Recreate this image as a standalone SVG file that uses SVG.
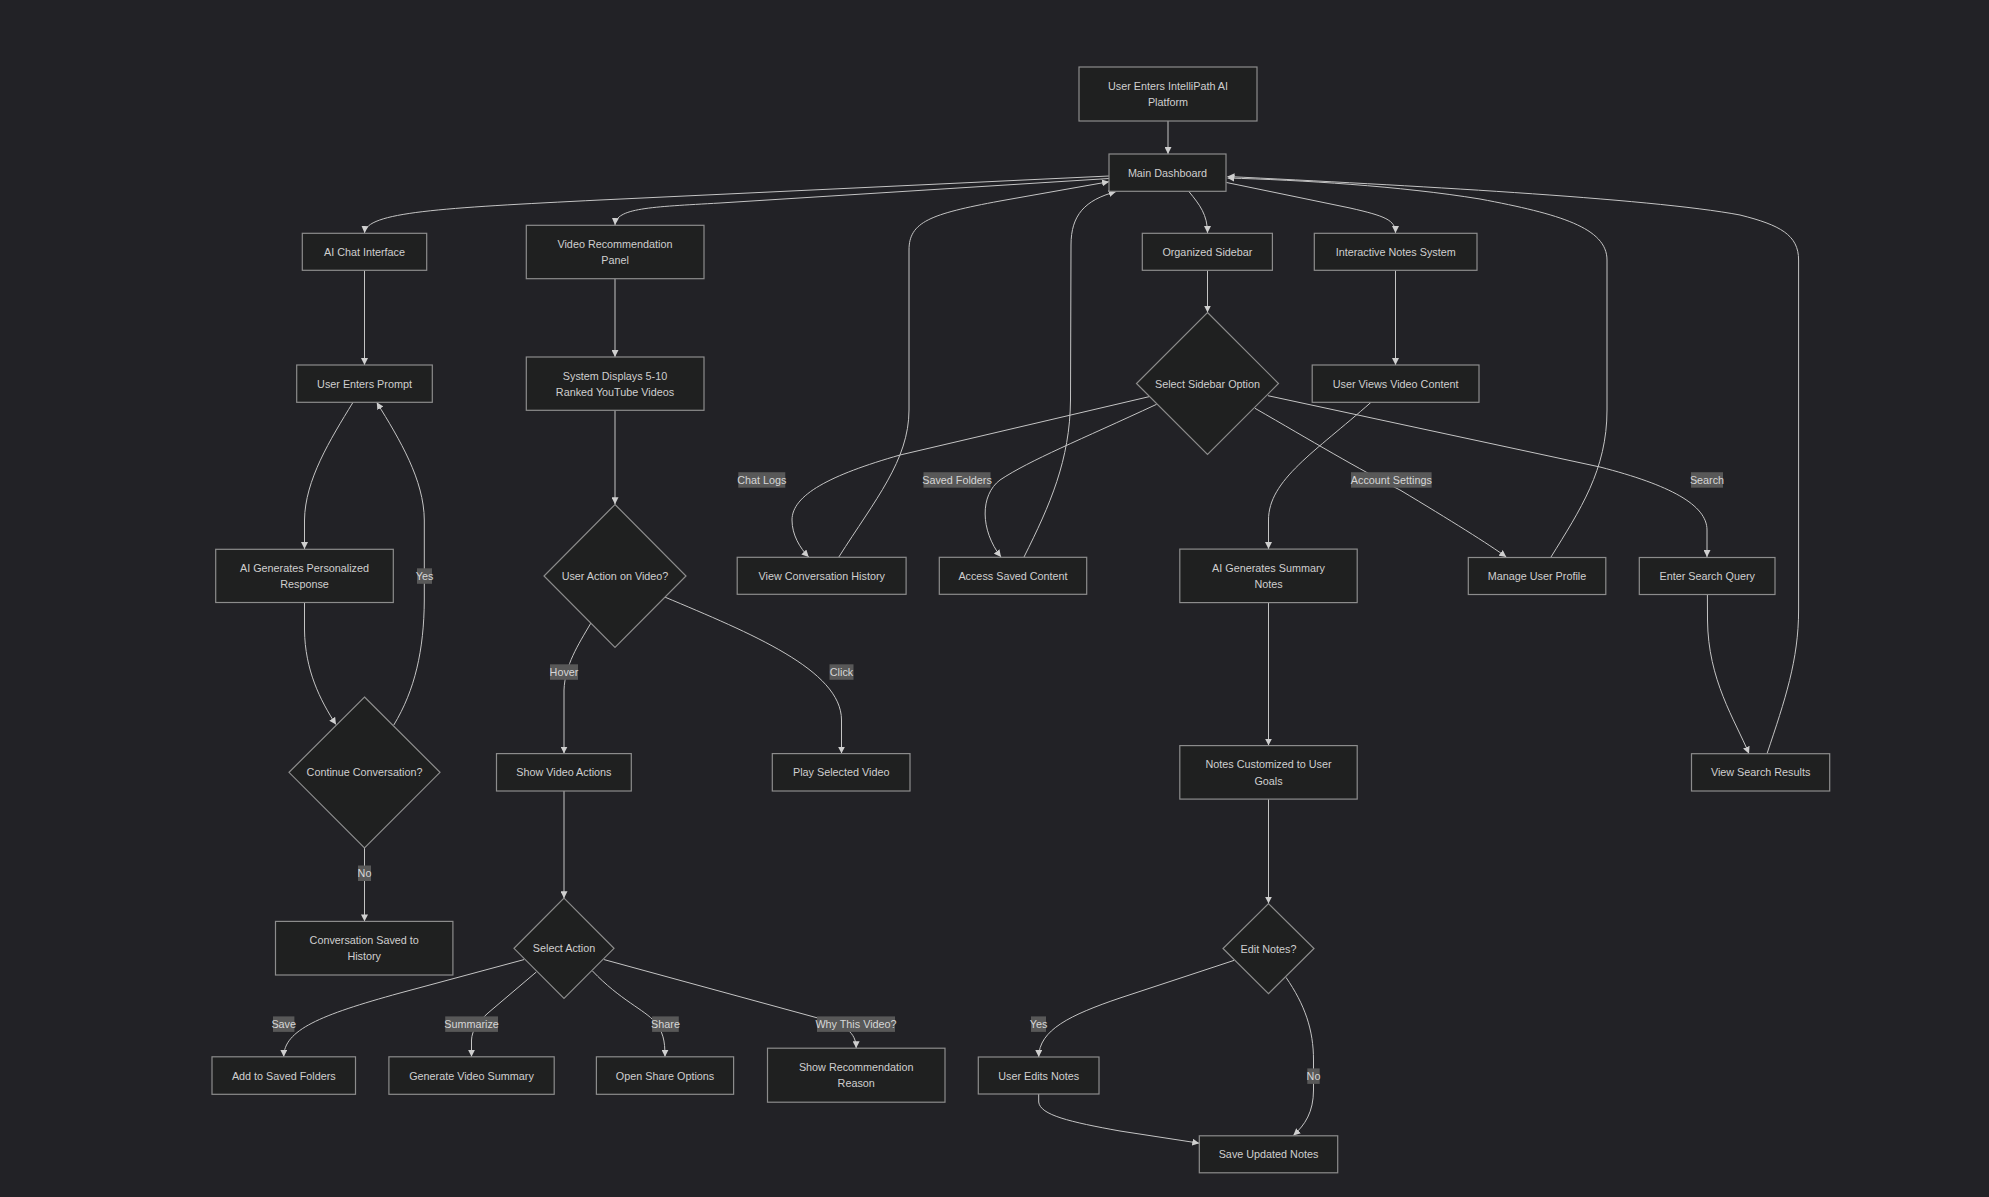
<svg xmlns="http://www.w3.org/2000/svg" width="1989" height="1197" viewBox="0 0 1989 1197">
  <defs>
    <marker id="arrow" viewBox="0 0 10 10" refX="10" refY="5" markerWidth="7" markerHeight="7" markerUnits="userSpaceOnUse" orient="auto">
      <path d="M0,0 L10,5 L0,10 z" fill="#cfcfcf"/>
    </marker>
    <style>
      .node rect, .node polygon { fill: #1f2020; stroke: #8c8c8c; stroke-width: 1.2; }
      .node text { font-family: "Liberation Sans", Arial, sans-serif; font-size: 10.8px; fill: #cfcfcf; text-anchor: middle; dominant-baseline: central; }
      .edges path { fill: none; stroke: #c4c4c4; stroke-width: 1; marker-end: url(#arrow); }
      .elabel rect { fill: #585858; }
      .elabel text { font-family: "Liberation Sans", Arial, sans-serif; font-size: 10.8px; fill: #d6d6d6; text-anchor: middle; dominant-baseline: central; }
    </style>
  </defs>

  <rect x="0" y="0" width="1989" height="1197" fill="#222226"/>

  <!-- connectors -->
  <g class="edges" id="edges">
    <path d="M1168,121 L1168,154"/>
    <path d="M1109,176 L600,200 C440,208 366,212 364.5,233"/>
    <path d="M1109,178.5 L720,203 C650,207 616,208 615,225"/>
    <path d="M1188.7,191.3 C1200,205 1207.5,215 1207.5,233"/>
    <path d="M1226.5,182.5 L1350,208 C1385,216 1395.5,220 1395.5,233"/>
    <path d="M838.8,557 C875,500 909,460 909,410 L909,250 C909,222 930,214 1000,201 L1109,181.7"/>
    <path d="M1024,557 C1050,505 1070,460 1070.5,400 L1071,245 C1071,215 1085,200 1115.8,191.7"/>
    <path d="M1551,557 C1580,510 1607,470 1607,410 L1607,260 C1607,228 1560,214 1480,199 C1400,186 1300,180 1227.5,178"/>
    <path d="M1767,753.7 C1785,700 1798.6,660 1798.6,610 L1798.6,260 C1798.6,235 1780,225 1740,215 C1650,198 1400,185 1227.5,176.5"/>

    <path d="M364.5,270.3 L364.5,365"/>
    <path d="M353,402.3 C330,440 305,480 304.5,520 L304.5,549"/>
    <path d="M304.5,602.5 L304.5,630 C305,670 320,700 336,724.6"/>
    <path d="M393.8,725 C415,690 424,650 424.3,600 L424.3,520 C424,480 400,440 376.7,402.3"/>
    <path d="M364.5,847.9 L364.5,921.4"/>

    <path d="M615,278.7 L615,357"/>
    <path d="M615,410.3 L615,504.3"/>
    <path d="M591,622.9 C578,645 565,665 564,690 L564,753.6"/>
    <path d="M664.7,597 C750,633 841.5,670 841.5,720 L841.5,753.6"/>
    <path d="M564,791 L564,898.2"/>
    <path d="M524,959.6 L400,993 C320,1015 284,1030 283.7,1056.8"/>
    <path d="M536.3,972 L488,1013 C478,1022 472,1030 471.5,1040 L471.5,1056.8"/>
    <path d="M592.5,971 C620,1000 645,1010 655,1022 C663,1032 665,1040 665,1056.8"/>
    <path d="M604.1,959.6 L820,1018.6 C845,1025 856,1032 856.2,1048.2"/>

    <path d="M1207.5,270.3 L1207.5,312.5"/>
    <path d="M1149,396.7 L900,455 C830,475 792,495 792,520 C792,535 800,548 808.7,557"/>
    <path d="M1156.6,404.3 C1080,440 1030,460 1000,480 C980,495 980,530 1001,557"/>
    <path d="M1255,408.3 C1310,440 1360,470 1400,490 C1450,520 1490,545 1506.3,557"/>
    <path d="M1267.9,395.7 L1600,467 C1670,485 1707,505 1707,530 L1707,557"/>
    <path d="M1707.4,594.5 L1707.5,620 C1708,680 1735,720 1749,753.7"/>

    <path d="M1395.5,270.3 L1395.5,365"/>
    <path d="M1371,402.3 C1315,452 1268.5,480 1268.5,520 L1268.5,549"/>
    <path d="M1268.5,602.6 L1268.5,745.6"/>
    <path d="M1268.5,799.1 L1268.5,903.6"/>
    <path d="M1234,960.4 L1120,998 C1070,1015 1039,1030 1038.7,1057"/>
    <path d="M1286,977.4 C1305,1005 1313.5,1030 1313.5,1060 L1313.5,1090 C1313.5,1112 1305,1125 1293.3,1135.4"/>
    <path d="M1038.7,1094 L1038.7,1102 C1040,1115 1070,1122 1120,1131 L1199.3,1143.2"/>
  </g>

  <!-- edge labels -->
  <g class="elabel" id="edge-labels">
    <rect x="417" y="568.3" width="15" height="15.5"/><text x="424.5" y="576">Yes</text>
    <rect x="358" y="865.5" width="13" height="15.5"/><text x="364.5" y="873.2">No</text>
    <rect x="550" y="664.3" width="28" height="15.5"/><text x="564" y="672">Hover</text>
    <rect x="829.5" y="664.3" width="24" height="15.5"/><text x="841.5" y="672">Click</text>
    <rect x="738.3" y="472.2" width="47" height="15.5"/><text x="761.8" y="480">Chat Logs</text>
    <rect x="923.5" y="472.2" width="67" height="15.5"/><text x="957" y="480">Saved Folders</text>
    <rect x="1351" y="472.2" width="80.6" height="15.5"/><text x="1391.3" y="480">Account Settings</text>
    <rect x="1691" y="472.2" width="32" height="15.5"/><text x="1707" y="480">Search</text>
    <rect x="273" y="1016.4" width="21.4" height="15.5"/><text x="283.7" y="1024.2">Save</text>
    <rect x="445.2" y="1016.4" width="52.8" height="15.5"/><text x="471.6" y="1024.2">Summarize</text>
    <rect x="652.1" y="1016.4" width="26.7" height="15.5"/><text x="665.5" y="1024.2">Share</text>
    <rect x="817" y="1016.4" width="78" height="15.5"/><text x="856" y="1024.2">Why This Video?</text>
    <rect x="1031" y="1016.4" width="15" height="15.5"/><text x="1038.5" y="1024.2">Yes</text>
    <rect x="1307.3" y="1068.4" width="12.4" height="15.5"/><text x="1313.5" y="1076.1">No</text>
  </g>

  <!-- entry -->
  <g class="node" id="n-enter">
    <rect x="1079" y="67" width="178" height="54"/>
    <text x="1168" y="86">User Enters IntelliPath AI</text>
    <text x="1168" y="102.3">Platform</text>
  </g>
  <g class="node" id="n-dashboard">
    <rect x="1109" y="154" width="117" height="37.3"/>
    <text x="1167.5" y="172.7">Main Dashboard</text>
  </g>

  <!-- chat branch -->
  <g class="node" id="n-chat">
    <rect x="302.3" y="233.3" width="124.4" height="37"/>
    <text x="364.5" y="251.8">AI Chat Interface</text>
  </g>
  <g class="node" id="n-prompt">
    <rect x="296.7" y="365" width="135.6" height="37.3"/>
    <text x="364.5" y="383.7">User Enters Prompt</text>
  </g>
  <g class="node" id="n-response">
    <rect x="215.7" y="549.3" width="177.6" height="53.2"/>
    <text x="304.5" y="568">AI Generates Personalized</text>
    <text x="304.5" y="584.2">Response</text>
  </g>
  <g class="node" id="n-continue">
    <polygon points="364.5,697 440,772.3 364.5,848 289,772.3"/>
    <text x="364.5" y="772.3">Continue Conversation?</text>
  </g>
  <g class="node" id="n-saved-history">
    <rect x="275.5" y="921.4" width="177.4" height="53.6"/>
    <text x="364.2" y="940.1">Conversation Saved to</text>
    <text x="364.2" y="956.3">History</text>
  </g>

  <!-- video branch -->
  <g class="node" id="n-video-panel">
    <rect x="526.3" y="225.3" width="177.7" height="53.4"/>
    <text x="615" y="244">Video Recommendation</text>
    <text x="615" y="260.2">Panel</text>
  </g>
  <g class="node" id="n-ranked">
    <rect x="526.3" y="357" width="177.7" height="53.3"/>
    <text x="615" y="375.6">System Displays 5-10</text>
    <text x="615" y="392.2">Ranked YouTube Videos</text>
  </g>
  <g class="node" id="n-video-action">
    <polygon points="615,504.5 686,576 615,647.5 544,576"/>
    <text x="615" y="576">User Action on Video?</text>
  </g>
  <g class="node" id="n-show-actions">
    <rect x="496.5" y="753.6" width="134.8" height="37.4"/>
    <text x="563.9" y="772.3">Show Video Actions</text>
  </g>
  <g class="node" id="n-play">
    <rect x="772.3" y="753.6" width="137.7" height="37.4"/>
    <text x="841.2" y="772.3">Play Selected Video</text>
  </g>
  <g class="node" id="n-select-action">
    <polygon points="564,898.2 614,948.3 564,998.5 514,948.3"/>
    <text x="564" y="948.3">Select Action</text>
  </g>
  <g class="node" id="n-add-folders">
    <rect x="212" y="1056.8" width="143.5" height="37.5"/>
    <text x="283.8" y="1075.5">Add to Saved Folders</text>
  </g>
  <g class="node" id="n-summary">
    <rect x="388.9" y="1056.8" width="165.3" height="37.5"/>
    <text x="471.5" y="1075.5">Generate Video Summary</text>
  </g>
  <g class="node" id="n-share">
    <rect x="596.4" y="1056.8" width="137.2" height="37.5"/>
    <text x="665" y="1075.5">Open Share Options</text>
  </g>
  <g class="node" id="n-reason">
    <rect x="767.5" y="1048.2" width="177.5" height="54"/>
    <text x="856.2" y="1067.1">Show Recommendation</text>
    <text x="856.2" y="1083.3">Reason</text>
  </g>

  <!-- sidebar branch -->
  <g class="node" id="n-sidebar">
    <rect x="1142.3" y="233.3" width="130.1" height="37"/>
    <text x="1207.4" y="251.8">Organized Sidebar</text>
  </g>
  <g class="node" id="n-sidebar-option">
    <polygon points="1207.5,312.5 1278.5,383.5 1207.5,454.5 1136.5,383.5"/>
    <text x="1207.5" y="383.5">Select Sidebar Option</text>
  </g>
  <g class="node" id="n-conv-history">
    <rect x="737.2" y="557.3" width="168.9" height="37"/>
    <text x="821.7" y="575.8">View Conversation History</text>
  </g>
  <g class="node" id="n-saved-content">
    <rect x="939.3" y="557.3" width="147.4" height="37"/>
    <text x="1013" y="575.8">Access Saved Content</text>
  </g>
  <g class="node" id="n-profile">
    <rect x="1468.3" y="557.5" width="137.5" height="37"/>
    <text x="1537" y="576">Manage User Profile</text>
  </g>
  <g class="node" id="n-search">
    <rect x="1639.3" y="557.5" width="135.7" height="37"/>
    <text x="1707.2" y="576">Enter Search Query</text>
  </g>
  <g class="node" id="n-search-results">
    <rect x="1691.5" y="753.7" width="138.2" height="37.3"/>
    <text x="1760.6" y="772.3">View Search Results</text>
  </g>

  <!-- notes branch -->
  <g class="node" id="n-notes">
    <rect x="1314.3" y="233.3" width="162.7" height="37"/>
    <text x="1395.7" y="251.8">Interactive Notes System</text>
  </g>
  <g class="node" id="n-views-video">
    <rect x="1312.2" y="365" width="166.8" height="37.3"/>
    <text x="1395.6" y="383.7">User Views Video Content</text>
  </g>
  <g class="node" id="n-summary-notes">
    <rect x="1179.8" y="549.1" width="177.4" height="53.5"/>
    <text x="1268.5" y="567.8">AI Generates Summary</text>
    <text x="1268.5" y="584">Notes</text>
  </g>
  <g class="node" id="n-customized">
    <rect x="1179.8" y="745.6" width="177.4" height="53.5"/>
    <text x="1268.5" y="764.3">Notes Customized to User</text>
    <text x="1268.5" y="780.5">Goals</text>
  </g>
  <g class="node" id="n-edit">
    <polygon points="1268.5,903.6 1314,948.5 1268.5,993.6 1223,948.5"/>
    <text x="1268.5" y="948.5">Edit Notes?</text>
  </g>
  <g class="node" id="n-user-edits">
    <rect x="978.3" y="1057" width="120.7" height="37"/>
    <text x="1038.7" y="1075.5">User Edits Notes</text>
  </g>
  <g class="node" id="n-save-notes">
    <rect x="1199.3" y="1135.8" width="138.4" height="37"/>
    <text x="1268.5" y="1154.3">Save Updated Notes</text>
  </g>
</svg>
